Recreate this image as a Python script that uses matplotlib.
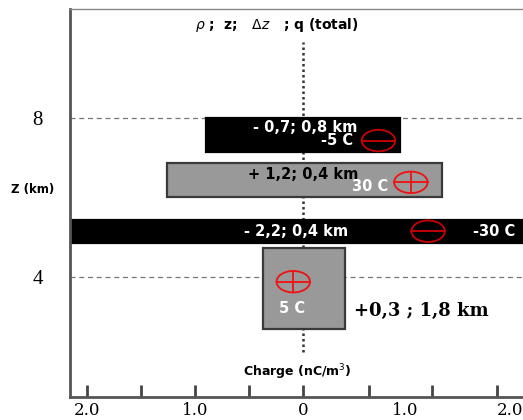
import matplotlib
matplotlib.use("Agg")
import matplotlib.pyplot as plt
from matplotlib.patches import Rectangle, Ellipse

# charge layers: x extent of the box, z bottom/top (km)
layer_names = ["upper_neg", "main_pos", "main_neg", "lower_pos"]
layer_x0 = [-0.9, -1.26, -2.16, -0.37]
layer_x1 = [0.9, 1.29, 2.1, 0.39]
layer_zbot = [7.15, 6.0, 4.86, 2.7]
layer_ztop = [8.0, 6.87, 5.43, 4.73]
layer_sign = [-1, 1, -1, 1]

layer_labels = ["- 0,7; 0,8 km", "+ 1,2; 0,4 km", "- 2,2; 0,4 km", "+0,3 ; 1,8 km"]
charge_labels = ["-5 C", "30 C", "-30 C", "5 C"]

# where the +/- symbols sit (x, z)
sym_x = [0.7, 1.0, 1.16, -0.09]
sym_z = [7.43, 6.38, 5.15, 3.88]

x_major = [-2.0, -1.5, -1.0, -0.5, 0.0, 0.61, 1.2, 1.8]
x_label_pos = [-2.0, -1.0, 0.0, 0.95, 1.92]
x_label_txt = ["2.0", "1.0", "0", "1.0", "2.0"]
z_ticks = [4, 8]

fig = plt.figure(figsize=(5.23, 4.2), dpi=100)
ax = fig.add_axes([70 / 523, 23 / 420, 453 / 523, 388 / 420])
ax.set_xlim(-2.16, 2.04)
ax.set_ylim(0.98, 10.74)

for s in ["left", "bottom"]:
    ax.spines[s].set_color("#555555")
    ax.spines[s].set_linewidth(2)
ax.spines["top"].set_color("#888888")
ax.spines["top"].set_linewidth(1)
ax.spines["right"].set_visible(False)

ax.set_xticks(x_major)
ax.set_xticklabels([])
ax.tick_params(axis="x", direction="in", length=9, width=2, color="#444444")
# number labels under the axis (not on the tick marks)
for xp, lab in zip(x_label_pos, x_label_txt):
    ax.text(xp, -0.014, lab, transform=ax.get_xaxis_transform(),
            fontsize=12, family="DejaVu Serif", ha="center", va="top")

ax.set_yticks(z_ticks)
ax.set_yticklabels([str(t) for t in z_ticks], family="Liberation Serif", fontsize=15)
ax.tick_params(axis="y", length=0, pad=19.5)

for z in z_ticks:
    ax.axhline(z, color="#777777", lw=0.9, ls=(0, (4, 3)), zorder=1)

ax.plot([0, 0], [2.1, 9.9], color="#333333", lw=1.8, ls=(0, (1, 1.2)), zorder=1)

for i in range(len(layer_names)):
    neg = layer_sign[i] < 0
    face = "black" if neg else "#999999"
    edge = "black" if neg else "#3a3a3a"
    ax.add_patch(Rectangle((layer_x0[i], layer_zbot[i]), layer_x1[i] - layer_x0[i],
                           layer_ztop[i] - layer_zbot[i], facecolor=face,
                           edgecolor=edge, lw=1.6, zorder=2))
    col = "#cc0000" if neg else "#ee1111"
    w, h = 0.31, 0.54
    ax.add_patch(Ellipse((sym_x[i], sym_z[i]), w, h, fill=False, edgecolor=col,
                         lw=1.3, zorder=3))
    ax.plot([sym_x[i] - w / 2, sym_x[i] + w / 2], [sym_z[i], sym_z[i]], color=col,
            lw=1.3, zorder=3)
    if not neg:
        ax.plot([sym_x[i], sym_x[i]], [sym_z[i] - h / 2, sym_z[i] + h / 2], color=col,
                lw=1.3, zorder=3)

bold = dict(fontweight="bold", family="DejaVu Sans", zorder=4, fontsize=10.5,
            ha="center", va="center")
ax.text(0.02, 7.77, layer_labels[0], color="white", **bold)
ax.text(0.32, 7.42, charge_labels[0], color="white", **bold)
ax.text(0.0, 6.58, layer_labels[1], color="black", **bold)
ax.text(0.62, 6.28, charge_labels[1], color="white", **bold)
ax.text(-0.06, 5.15, layer_labels[2], color="white", **bold)
ax.text(1.77, 5.15, charge_labels[2], color="white", **bold)
ax.text(-0.1, 3.2, charge_labels[3], color="white", **bold)
ax.text(0.47, 3.15, layer_labels[3], color="black", fontsize=13, ha="left", va="center",
        fontweight="bold", family="DejaVu Serif", zorder=4)

ax.text(-0.05, 1.6, "Charge (nC/m$^3$)", color="black", fontsize=9, ha="center",
        va="center", fontweight="bold", family="DejaVu Sans")
ax.text(-0.24, 10.33, r"$\rho$ ;  z;   $\Delta z$   ; q (total)", color="black",
        fontsize=10, ha="center", va="center", fontweight="bold", family="DejaVu Sans")
fig.text(33 / 523, 1 - 190 / 420, "Z (km)", fontsize=8.5, fontweight="bold",
         ha="center", va="center", family="DejaVu Sans")

fig.savefig("out.png", dpi=100)
